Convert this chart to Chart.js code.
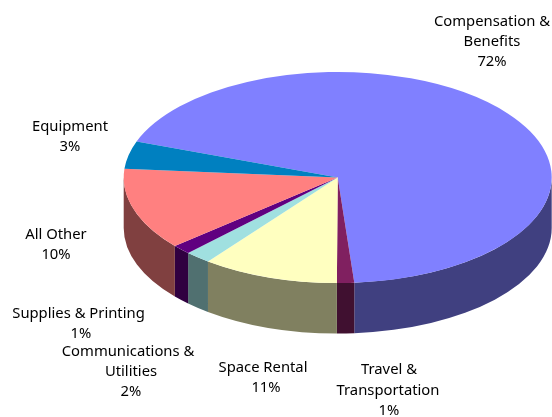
<!DOCTYPE html>
<html>
<head>
<meta charset="utf-8">
<style>html,body{margin:0;padding:0;background:#fff}canvas{display:block}</style>
<script src="https://cdn.jsdelivr.net/npm/chart.js@4/dist/chart.umd.min.js"></script>
</head>
<body>
<canvas id="c" width="552" height="417"></canvas>
<script>
const categories = ["Compensation & Benefits","Travel & Transportation","Space Rental","Communications & Utilities","Supplies & Printing","All Other","Equipment"];
const shares = [71.25,1.45,10.5,1.8,1.3,10.4,3.3];
const percentLabels = ["72%","1%","11%","2%","1%","10%","3%"];
const topColors = ["#8080ff","#802060","#ffffc0","#a0e0e0","#600080","#ff8080","#0080c0"];
const wallColors = ["#404080","#401030","#808060","#507070","#300040","#804040","#004060"];

// label lines: [text, centre x, middle y]
const labelLines = [
  [["Compensation &",492,22],["Benefits",492,42],[percentLabels[0],492,62]],
  [["Travel &",389,370],["Transportation",388,391],[percentLabels[1],389,411]],
  [["Space Rental",263,368],[percentLabels[2],266,388]],
  [["Communications &",128,352],["Utilities",131,372],[percentLabels[3],131,392]],
  [["Supplies & Printing",78.5,314],[percentLabels[4],81,334]],
  [["All Other",56,235],[percentLabels[5],56,255]],
  [["Equipment",70,127],[percentLabels[6],70,147]]
];

const view = {cx:337.7, cy:177.5, rx:214, ry:105.5, depth:50.5, axis:(300-90)*Math.PI/180, k:1.3};

function warp(a){
  let d = a - view.axis;
  const n = Math.round(d/(2*Math.PI));
  d -= n*2*Math.PI;
  return view.axis + n*2*Math.PI + 2*Math.atan2(view.k*Math.sin(d/2), Math.cos(d/2));
}

const pie3d = {
  id:'pie3d',
  afterDatasetsUpdate(chart){
    chart.getDatasetMeta(0).data.forEach(arc=>{
      const s = warp(arc.startAngle), e = warp(arc.endAngle);
      arc.startAngle = s; arc.endAngle = e; arc.circumference = e - s;
    });
  },
  beforeDatasetsDraw(chart){
    const ctx = chart.ctx, v = view, arcs = chart.getDatasetMeta(0).data;
    ctx.save();
    arcs.forEach((arc,i)=>{
      [[0,Math.PI],[2*Math.PI,3*Math.PI]].forEach(([lo,hi])=>{
        const a0 = Math.max(arc.startAngle,lo), a1 = Math.min(arc.endAngle,hi);
        if(a1<=a0) return;
        ctx.beginPath();
        ctx.ellipse(v.cx,v.cy,v.rx,v.ry,0,a0,a1,false);
        ctx.ellipse(v.cx,v.cy+v.depth,v.rx,v.ry,0,a1,a0,true);
        ctx.closePath();
        ctx.fillStyle = wallColors[i];
        ctx.fill();
      });
    });
    const a = arcs[0], r = a.outerRadius;
    ctx.translate(v.cx,v.cy);
    ctx.scale(v.rx/r,v.ry/r);
    ctx.translate(-a.x,-a.y);
  },
  afterDatasetsDraw(chart){ chart.ctx.restore(); },
  afterDraw(chart){
    const ctx = chart.ctx;
    ctx.save();
    ctx.fillStyle = '#000';
    ctx.font = '14.8px "Noto Sans"';
    ctx.textAlign = 'center';
    ctx.textBaseline = 'middle';
    labelLines.flat().forEach(([t,x,y])=>ctx.fillText(t,x,y));
    ctx.restore();
  }
};

new Chart(document.getElementById('c'),{
  type:'pie',
  data:{labels:categories,datasets:[{data:shares,backgroundColor:topColors,borderWidth:0,clip:false}]},
  options:{
    responsive:false,animation:false,rotation:292.3,
    layout:{padding:0},
    plugins:{legend:{display:false},tooltip:{enabled:false},title:{display:false}}
  },
  plugins:[pie3d]
});
</script>
</body>
</html>
